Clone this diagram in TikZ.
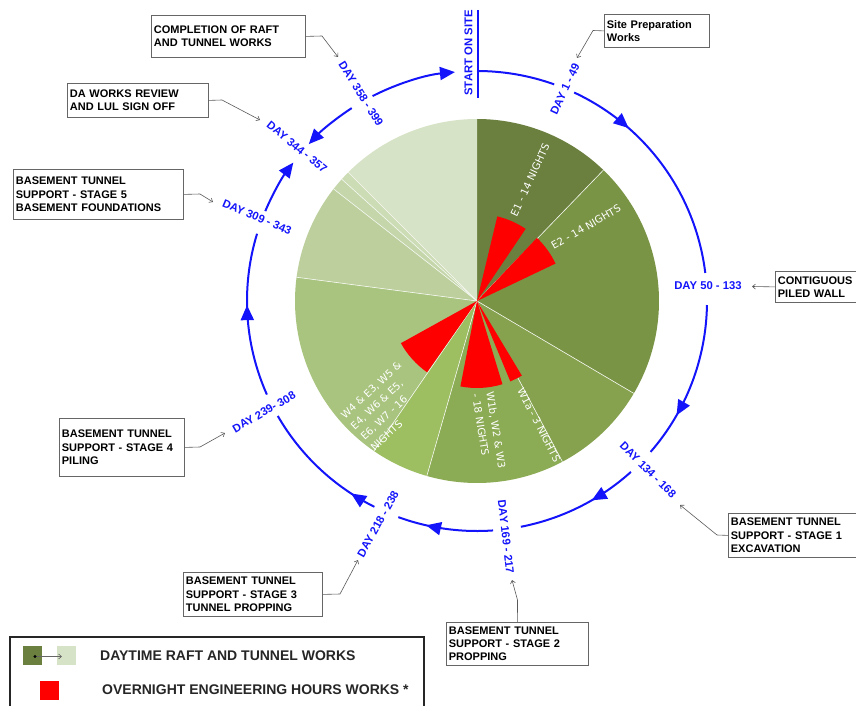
\documentclass[tikz,border=0pt]{standalone}
\usepackage{fontspec}
\setmainfont{Liberation Sans}
\newfontfamily\piefont{DejaVu Sans}
\usetikzlibrary{arrows.meta,decorations.markings,calc}
\definecolor{sA}{RGB}{107,127,62}
\definecolor{sB}{RGB}{122,148,70}
\definecolor{sC}{RGB}{134,162,78}
\definecolor{sD}{RGB}{140,171,85}
\definecolor{sE}{RGB}{157,191,98}
\definecolor{sF}{RGB}{169,196,127}
\definecolor{sG}{RGB}{188,207,157}
\definecolor{sH}{RGB}{197,214,171}
\definecolor{sI}{RGB}{204,220,181}
\definecolor{sJ}{RGB}{215,227,198}
\definecolor{dayblue}{RGB}{20,20,250}
\begin{document}
\begin{tikzpicture}[x=1pt,y=1pt,
  daylbl/.style={text=dayblue,font=\bfseries\fontsize{11.3}{11.3}\selectfont,inner sep=0pt},
  boxn/.style={draw=black!60,line width=0.8pt,fill=white,font=\bfseries\fontsize{11}{13.3}\selectfont,align=left,anchor=north west,inner xsep=2.5pt,inner ysep=2pt},
  pietxt/.style={text=white,font=\piefont\fontsize{10.2}{14.5}\selectfont,inner sep=0pt},
  conn/.style={draw=black!65,line width=0.6pt,-{Straight Barb[length=3pt,width=5pt]}},
  bl/.style={color=dayblue,line width=2pt},
  tri/.style={-{Triangle[length=15pt,width=13pt]}},
  arrowat/.style={postaction={decorate},decoration={markings,mark=at position #1 with {\arrow{Triangle[length=15pt,width=13pt]}}}}
]
\useasboundingbox (0,0) rectangle (856,-706);
\clip (0,0) rectangle (856,-706);
\coordinate (C) at (477,-301);

% pie slices
\foreach \a/\b/\c in {90/46/sA,46/-30.5/sB,-30.5/-62/sC,-62/-106/sD,-106/-124.5/sE,-124.5/-187.5/sF,172.5/142/sG,142/138/sH,138/135/sI,135/90/sJ}
  \fill[\c] (C) -- ($(C)+(\a:182)$) arc[start angle=\a,end angle=\b,radius=182pt] -- cycle;
\foreach \a in {46,-30.5,-62,-106,-124.5,172.5,142,138,135}
  \draw[white!75!sJ,line width=0.6pt] (C) -- ($(C)+(\a:182)$);

% red overnight wedges
\foreach \a/\b in {76.5/56,46.5/25.5,-59/-67.5,-73/-101,-125/-151}
  \fill[red] (C) -- ($(C)+(\a:87)$) arc[start angle=\a,end angle=\b,radius=87pt] -- cycle;

% pie texts
\node[pietxt,rotate=65] (tE1) at (530,-180) {E1 - 14 NIGHTS};
\node[pietxt,rotate=30] (tE2) at (586,-227) {E2 - 14 NIGHTS};
\node[pietxt,rotate=-63] (tW1a) at (539,-425) {W1a - 3 NIGHTS};
\node[pietxt,rotate=-81,align=left] (tW1b) at (489,-431) {W1b, W2 \& W3\\- 18 NIGHTS};
\node[pietxt,rotate=43,align=left] (tW4) at (386,-406) {W4 \& E3, W5 \&\\E4, W6 \& E5,\\E6, W7 - 16\\NIGHTS};

% blue programme circle
\draw[bl] ($(C)+(90:230)$) arc[start angle=90,end angle=70.4,radius=230pt];
\draw[bl,arrowat=0.28] ($(C)+(65:230)$) arc[start angle=65,end angle=7,radius=230pt];
\draw[bl,arrowat=0.72] ($(C)+(-1:230)$) arc[start angle=-1,end angle=-41,radius=230pt];
\draw[bl,arrowat=0.39] ($(C)+(-48:230)$) arc[start angle=-48,end angle=-79,radius=230pt];
\draw[bl,arrowat=0.7] ($(C)+(-86:230)$) arc[start angle=-86,end angle=-110,radius=230pt];
\draw[bl,arrowat=0.2] ($(C)+(-116.5:230)$) arc[start angle=-116.5,end angle=-150,radius=230pt];
\draw[bl,arrowat=0.56] ($(C)+(-156:230)$) arc[start angle=-156,end angle=-197,radius=230pt];
\draw[bl,tri] ($(C)+(157:230)$) arc[start angle=157,end angle=143,radius=230pt];
\draw[bl,tri] ($(C)+(123:230)$) arc[start angle=123,end angle=137,radius=230pt];
\draw[bl,tri] ($(C)+(117:230)$) arc[start angle=117,end angle=95.5,radius=230pt];

% start on site
\coordinate (st1) at (478,-10);
\coordinate (st2) at (478,-98);
\draw[color=dayblue,line width=2.7pt] (st1) -- (st2);
\node[daylbl,rotate=90] (start) at (468.5,-53) {START ON SITE};

% day labels
\node[daylbl,rotate=65] (d1) at (565,-89) {DAY 1 - 49};
\node[daylbl] (d2) at (708,-286) {DAY 50 - 133};
\node[daylbl,rotate=-44.5] (d3) at (648,-470) {DAY 134 - 168};
\node[daylbl,rotate=-83.5] (d4) at (506,-537) {DAY 169 - 217};
\node[daylbl,rotate=61] (d5) at (378,-524) {DAY 218 - 238};
\node[daylbl,rotate=30] (d6) at (264,-412) {DAY 239- 308};
\node[daylbl,rotate=-23] (d7) at (257,-217) {DAY 309 - 343};
\node[daylbl,rotate=-39] (d8) at (297,-147) {DAY 344 - 357};
\node[daylbl,rotate=-58] (d9) at (361,-94) {DAY 358 - 399};

% boxes
\node[boxn,text width=149pt,minimum height=42pt] (bA) at (151,-15) {COMPLETION OF RAFT\\AND TUNNEL WORKS};
\node[boxn,text width=136pt,minimum height=34pt] (bB) at (67,-83) {DA WORKS REVIEW\\AND LUL SIGN OFF};
\node[boxn,text width=165pt,minimum height=50pt] (bC) at (13,-169) {BASEMENT TUNNEL\\SUPPORT - STAGE 5\\BASEMENT FOUNDATIONS};
\node[boxn,text width=120pt,minimum height=58pt] (bD) at (59,-418) {BASEMENT TUNNEL\\SUPPORT - STAGE 4\\PILING};
\node[boxn,text width=134pt,minimum height=44pt] (bE) at (183,-572) {BASEMENT TUNNEL\\SUPPORT - STAGE 3\\TUNNEL PROPPING};
\node[boxn,text width=137pt,minimum height=43pt] (bF) at (446,-622) {BASEMENT TUNNEL\\SUPPORT - STAGE 2\\PROPPING};
\node[boxn,text width=125pt,minimum height=44pt] (bG) at (728,-513) {BASEMENT TUNNEL\\SUPPORT - STAGE 1\\EXCAVATION};
\node[boxn,text width=80pt,minimum height=31pt] (bH) at (775,-271) {CONTIGUOUS\\PILED WALL};
\node[boxn,text width=100pt,minimum height=33pt] (bI) at (604,-14) {Site Preparation\\Works};

% connectors
\coordinate (kA1) at (322,-36);  \coordinate (kA2) at (338,-57);
\coordinate (kB1) at (222,-100); \coordinate (kB2) at (260,-120);
\coordinate (kC1) at (200,-194); \coordinate (kC2) at (213,-202);
\coordinate (kD1) at (200,-447); \coordinate (kD2) at (225,-433);
\coordinate (kE1) at (340,-594); \coordinate (kE2) at (358,-560);
\coordinate (kF1) at (517.5,-600); \coordinate (kF2) at (512,-580);
\coordinate (kG1) at (717,-535); \coordinate (kG2) at (680,-505);
\coordinate (kH2) at (752,-286.5);
\coordinate (kI1) at (593,-30.5); \coordinate (kI2) at (577,-58);
\draw[conn] (bA.east) -- (kA1) -- (kA2);
\draw[conn] (bB.east) -- (kB1) -- (kB2);
\draw[conn] (bC.east) -- (kC1) -- (kC2);
\draw[conn] (bD.east) -- (kD1) -- (kD2);
\draw[conn] (bE.east) -- (kE1) -- (kE2);
\draw[conn] (bF.north) -- (kF1) -- (kF2);
\draw[conn] (bG.west) -- (kG1) -- (kG2);
\draw[conn] (bH.west) -- (kH2);
\draw[conn] (bI.west) -- (kI1) -- (kI2);

% legend
\node[draw=black!85,line width=2.2pt,minimum width=414pt,minimum height=90pt,anchor=north west,inner sep=0pt] (leg) at (9,-636) {};
\node[fill=sA,minimum size=19pt,inner sep=0pt,anchor=north west] (lgA) at (23,-646) {};
\node[fill=sJ,minimum size=19pt,inner sep=0pt,anchor=north west] (lgB) at (57,-646) {};
\coordinate (lgdot) at (35,-656.5);
\coordinate (lgtip) at (62,-656.5);
\draw[draw=black!60,line width=0.6pt,-{Straight Barb[length=3pt,width=5pt]}] (lgdot) -- (lgtip);
\fill[black] (lgdot) circle (1.6pt);
\node[fill=red,minimum size=19pt,inner sep=0pt,anchor=north west] (lgR) at (40,-681) {};
\node[font=\bfseries\fontsize{14}{14}\selectfont,anchor=west,inner sep=0pt,text=black!85] (lt1) at (100,-656) {DAYTIME RAFT AND TUNNEL WORKS};
\node[font=\bfseries\fontsize{14}{14}\selectfont,anchor=west,inner sep=0pt,text=black!85] (lt2) at (102,-690) {OVERNIGHT ENGINEERING HOURS WORKS *};
\end{tikzpicture}
\end{document}
